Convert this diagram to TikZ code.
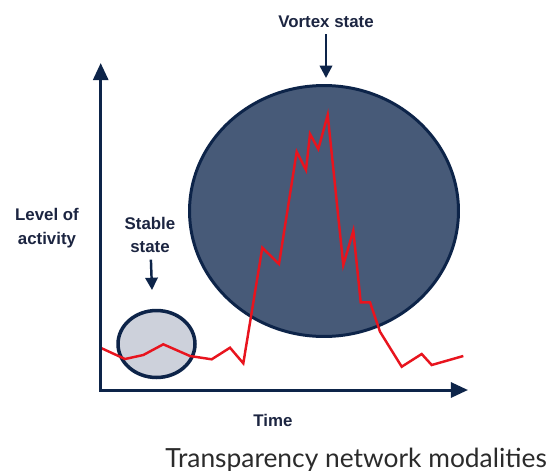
\documentclass[tikz,border=0pt]{standalone}
\usepackage{fontspec}
\setmainfont{Liberation Sans}
\newfontfamily\capfont{Lato}
\usetikzlibrary{arrows.meta,shapes.geometric}
\definecolor{navy}{HTML}{0D2449}
\definecolor{bigfill}{HTML}{475A78}
\definecolor{smallfill}{HTML}{CDD1DB}
\definecolor{redline}{HTML}{E8141E}
\definecolor{txt}{HTML}{1C2541}
\definecolor{captxt}{HTML}{2B2B2B}

\begin{document}
\begin{tikzpicture}[x=0.02cm,y=-0.02cm,
  axis/.style={draw=navy,line width=1.7pt},
  lbl/.style={font=\fontsize{9.6}{13.5}\selectfont\bfseries,text=txt,align=center,inner sep=2pt},
  lblarrow/.style={draw=navy,line width=1.4pt,shorten <=1.5pt,-{Triangle[length=7pt,width=7pt]}},
  state/.style={ellipse,draw=navy,inner sep=0pt},
  activity/.style={draw=redline,line width=1.4pt}]
\useasboundingbox (0,0) rectangle (550,470);
\fill[white] (0,0) rectangle (550,470);
\node[state,line width=1.7pt,fill=bigfill,minimum width=5.38cm,minimum height=5.02cm] (vortexstate) at (324,211) {};
\node[state,line width=2pt,fill=smallfill,minimum width=1.54cm,minimum height=1.34cm] (stablestate) at (156.5,344) {};
\draw[activity] (101.7,348.3) -- (125,359) -- (143.3,355) -- (163.3,344.3) -- (190,356) -- (211.7,359.3) -- (230,347.7) -- (243.3,363.3) -- (262.3,247.7) -- (279,264) -- (296.7,151.7) -- (306,170) -- (310,134) -- (318.3,149) -- (327.7,115) -- (343.3,265) -- (353.3,230.7) -- (360.7,302.3) -- (370,302.3) -- (380,331.7) -- (401.7,366.7) -- (421.7,354) -- (431.7,365) -- (463.3,356);
\coordinate (origin) at (100.7,390);
\coordinate (ytip) at (100.7,63);
\coordinate (xtip) at (468,390);
\draw[axis,{Triangle[length=9.7pt,width=8.5pt]}-{Triangle[length=9.7pt,width=8.5pt]}] (ytip) -- (origin) -- (xtip);
\node[lbl] (level) at (47,228) {Level of\\activity};
\node[lbl] (time) at (273,420) {Time};
\node[lbl] (stable) at (150,235) {Stable\\state};
\coordinate (stip) at (152,290);
\draw[lblarrow] (stable) -- (stip);
\node[lbl] (vortex) at (326,22) {Vortex state};
\coordinate (vtip) at (326,78);
\draw[lblarrow] (vortex) -- (vtip);
\node[anchor=base west,inner sep=0pt,font=\capfont\fontsize{15}{18}\selectfont,text=captxt] (caption) at (165,467) {Transparency network modalities};
\end{tikzpicture}
\end{document}
